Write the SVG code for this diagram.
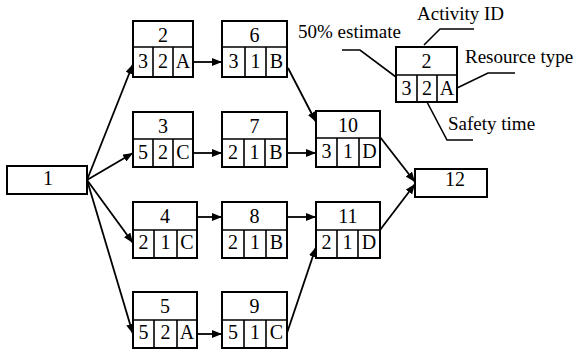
<svg xmlns="http://www.w3.org/2000/svg" width="574" height="353" viewBox="0 0 574 353">
  <defs>
    <marker id="arrow" viewBox="0 0 10 8" refX="10" refY="4" markerWidth="10" markerHeight="8" markerUnits="userSpaceOnUse" orient="auto">
      <path d="M0,0 L10,4 L0,8 Z" fill="#000"/>
    </marker>
    <style>
      .box { fill: #fff; stroke: #000; stroke-width: 2; }
      .div { fill: none; stroke: #000; stroke-width: 1.6; }
      .t { font-family: "Liberation Serif", "Times New Roman", serif; font-size: 20px; fill: #000; text-anchor: middle; }
      .lbl { font-family: "Liberation Serif", "Times New Roman", serif; font-size: 19px; fill: #000; }
      .edge { fill: none; stroke: #000; stroke-width: 1.8; marker-end: url(#arrow); }
      .lead { fill: none; stroke: #000; stroke-width: 1.6; }
    </style>
  </defs>
  <rect width="574" height="353" fill="#fff"/>

  <!-- connectors -->
  <g id="connectors">
    <line class="edge" x1="87" y1="180" x2="133" y2="64"/>
    <line class="edge" x1="87" y1="180" x2="133" y2="153"/>
    <line class="edge" x1="87" y1="180" x2="133" y2="243"/>
    <line class="edge" x1="87" y1="180" x2="133" y2="334"/>
    <line class="edge" x1="194" y1="62" x2="222" y2="62"/>
    <line class="edge" x1="194" y1="153" x2="222" y2="153"/>
    <line class="edge" x1="198" y1="217" x2="222" y2="217"/>
    <line class="edge" x1="198" y1="334" x2="222" y2="334"/>
    <line class="edge" x1="288" y1="68" x2="316" y2="122"/>
    <line class="edge" x1="288" y1="153" x2="316" y2="153"/>
    <line class="edge" x1="288" y1="217" x2="316" y2="217"/>
    <line class="edge" x1="287" y1="333" x2="316" y2="247"/>
    <line class="edge" x1="380" y1="137" x2="415" y2="182"/>
    <line class="edge" x1="380" y1="230" x2="415" y2="184"/>
  </g>

  <!-- start node -->
  <g id="n1">
    <rect class="box" x="7" y="166" width="80" height="28"/>
    <text class="t" x="48" y="185">1</text>
  </g>

  <!-- activity nodes: upper cell = ID, lower cells = estimate, safety time, resource -->
  <g id="n2">
    <rect class="box" x="133" y="21" width="60" height="56"/>
    <path class="div" d="M133,47 H193 M153,47 V77 M173,47 V77"/>
    <text class="t" x="163" y="41.5">2</text>
    <text class="t" x="143" y="67.5">3</text>
    <text class="t" x="163" y="67.5">2</text>
    <text class="t" x="183" y="67.5">A</text>
  </g>

  <g id="n3">
    <rect class="box" x="133" y="112" width="60" height="55"/>
    <path class="div" d="M133,139 H193 M153,139 V167 M173,139 V167"/>
    <text class="t" x="163" y="132.5">3</text>
    <text class="t" x="143" y="159">5</text>
    <text class="t" x="163" y="159">2</text>
    <text class="t" x="183" y="159">C</text>
  </g>

  <g id="n4">
    <rect class="box" x="133" y="202" width="64" height="56"/>
    <path class="div" d="M133,230 H197 M154,230 V258 M177,230 V258"/>
    <text class="t" x="165" y="222.5">4</text>
    <text class="t" x="143.5" y="249">2</text>
    <text class="t" x="165.5" y="249">1</text>
    <text class="t" x="187" y="249">C</text>
  </g>

  <g id="n5">
    <rect class="box" x="133" y="292" width="64" height="56"/>
    <path class="div" d="M133,320 H197 M154,320 V348 M177,320 V348"/>
    <text class="t" x="165" y="312.5">5</text>
    <text class="t" x="143.5" y="339">5</text>
    <text class="t" x="165.5" y="339">2</text>
    <text class="t" x="187" y="339">A</text>
  </g>

  <g id="n6">
    <rect class="box" x="222" y="21" width="65" height="56"/>
    <path class="div" d="M222,47 H287 M245,47 V77 M266,47 V77"/>
    <text class="t" x="254.5" y="41.5">6</text>
    <text class="t" x="233.5" y="67.5">3</text>
    <text class="t" x="255.5" y="67.5">1</text>
    <text class="t" x="276.5" y="67.5">B</text>
  </g>

  <g id="n7">
    <rect class="box" x="222" y="112" width="65" height="55"/>
    <path class="div" d="M222,139 H287 M244,139 V167 M265,139 V167"/>
    <text class="t" x="254.5" y="132.5">7</text>
    <text class="t" x="233" y="159">2</text>
    <text class="t" x="254.5" y="159">1</text>
    <text class="t" x="276" y="159">B</text>
  </g>

  <g id="n8">
    <rect class="box" x="222" y="202" width="65" height="56"/>
    <path class="div" d="M222,230 H287 M244,230 V258 M266,230 V258"/>
    <text class="t" x="254.5" y="222.5">8</text>
    <text class="t" x="233" y="249">2</text>
    <text class="t" x="255" y="249">1</text>
    <text class="t" x="276.5" y="249">B</text>
  </g>

  <g id="n9">
    <rect class="box" x="222" y="292" width="65" height="56"/>
    <path class="div" d="M222,320 H287 M244,320 V348 M266,320 V348"/>
    <text class="t" x="254.5" y="312.5">9</text>
    <text class="t" x="233" y="339">5</text>
    <text class="t" x="255" y="339">1</text>
    <text class="t" x="276.5" y="339">C</text>
  </g>

  <g id="n10">
    <rect class="box" x="316" y="111" width="64" height="56"/>
    <path class="div" d="M316,138 H380 M337,138 V167 M359,138 V167"/>
    <text class="t" x="348" y="131.5">10</text>
    <text class="t" x="326.5" y="158">3</text>
    <text class="t" x="348" y="158">1</text>
    <text class="t" x="369.5" y="158">D</text>
  </g>

  <g id="n11">
    <rect class="box" x="316" y="202" width="64" height="56"/>
    <path class="div" d="M316,230 H380 M337,230 V258 M358,230 V258"/>
    <text class="t" x="348" y="222.5">11</text>
    <text class="t" x="326.5" y="249">2</text>
    <text class="t" x="347.5" y="249">1</text>
    <text class="t" x="369" y="249">D</text>
  </g>

  <!-- end node -->
  <g id="n12">
    <rect class="box" x="415" y="169" width="72" height="28"/>
    <text class="t" x="455" y="185.5">12</text>
  </g>

  <!-- legend: sample node with leader lines to its field names -->
  <g id="legend">
    <rect class="box" x="396" y="47" width="61" height="55"/>
    <path class="div" d="M396,75 H457 M417,75 V102 M437,75 V102"/>
    <text class="t" x="426.5" y="67.5">2</text>
    <text class="t" x="406.5" y="95">3</text>
    <text class="t" x="427" y="95">2</text>
    <text class="t" x="447" y="95">A</text>
    <path class="lead" d="M424,45 L440,29 H474"/>
    <path class="lead" d="M342,50 H360 L396,77"/>
    <path class="lead" d="M457,88 L488,73 H515"/>
    <path class="lead" d="M427,102 L447,140 H473"/>
    <text class="lbl" x="417" y="20">Activity ID</text>
    <text class="lbl" x="298" y="38">50% estimate</text>
    <text class="lbl" x="465" y="63">Resource type</text>
    <text class="lbl" x="448" y="130">Safety time</text>
  </g>
</svg>
